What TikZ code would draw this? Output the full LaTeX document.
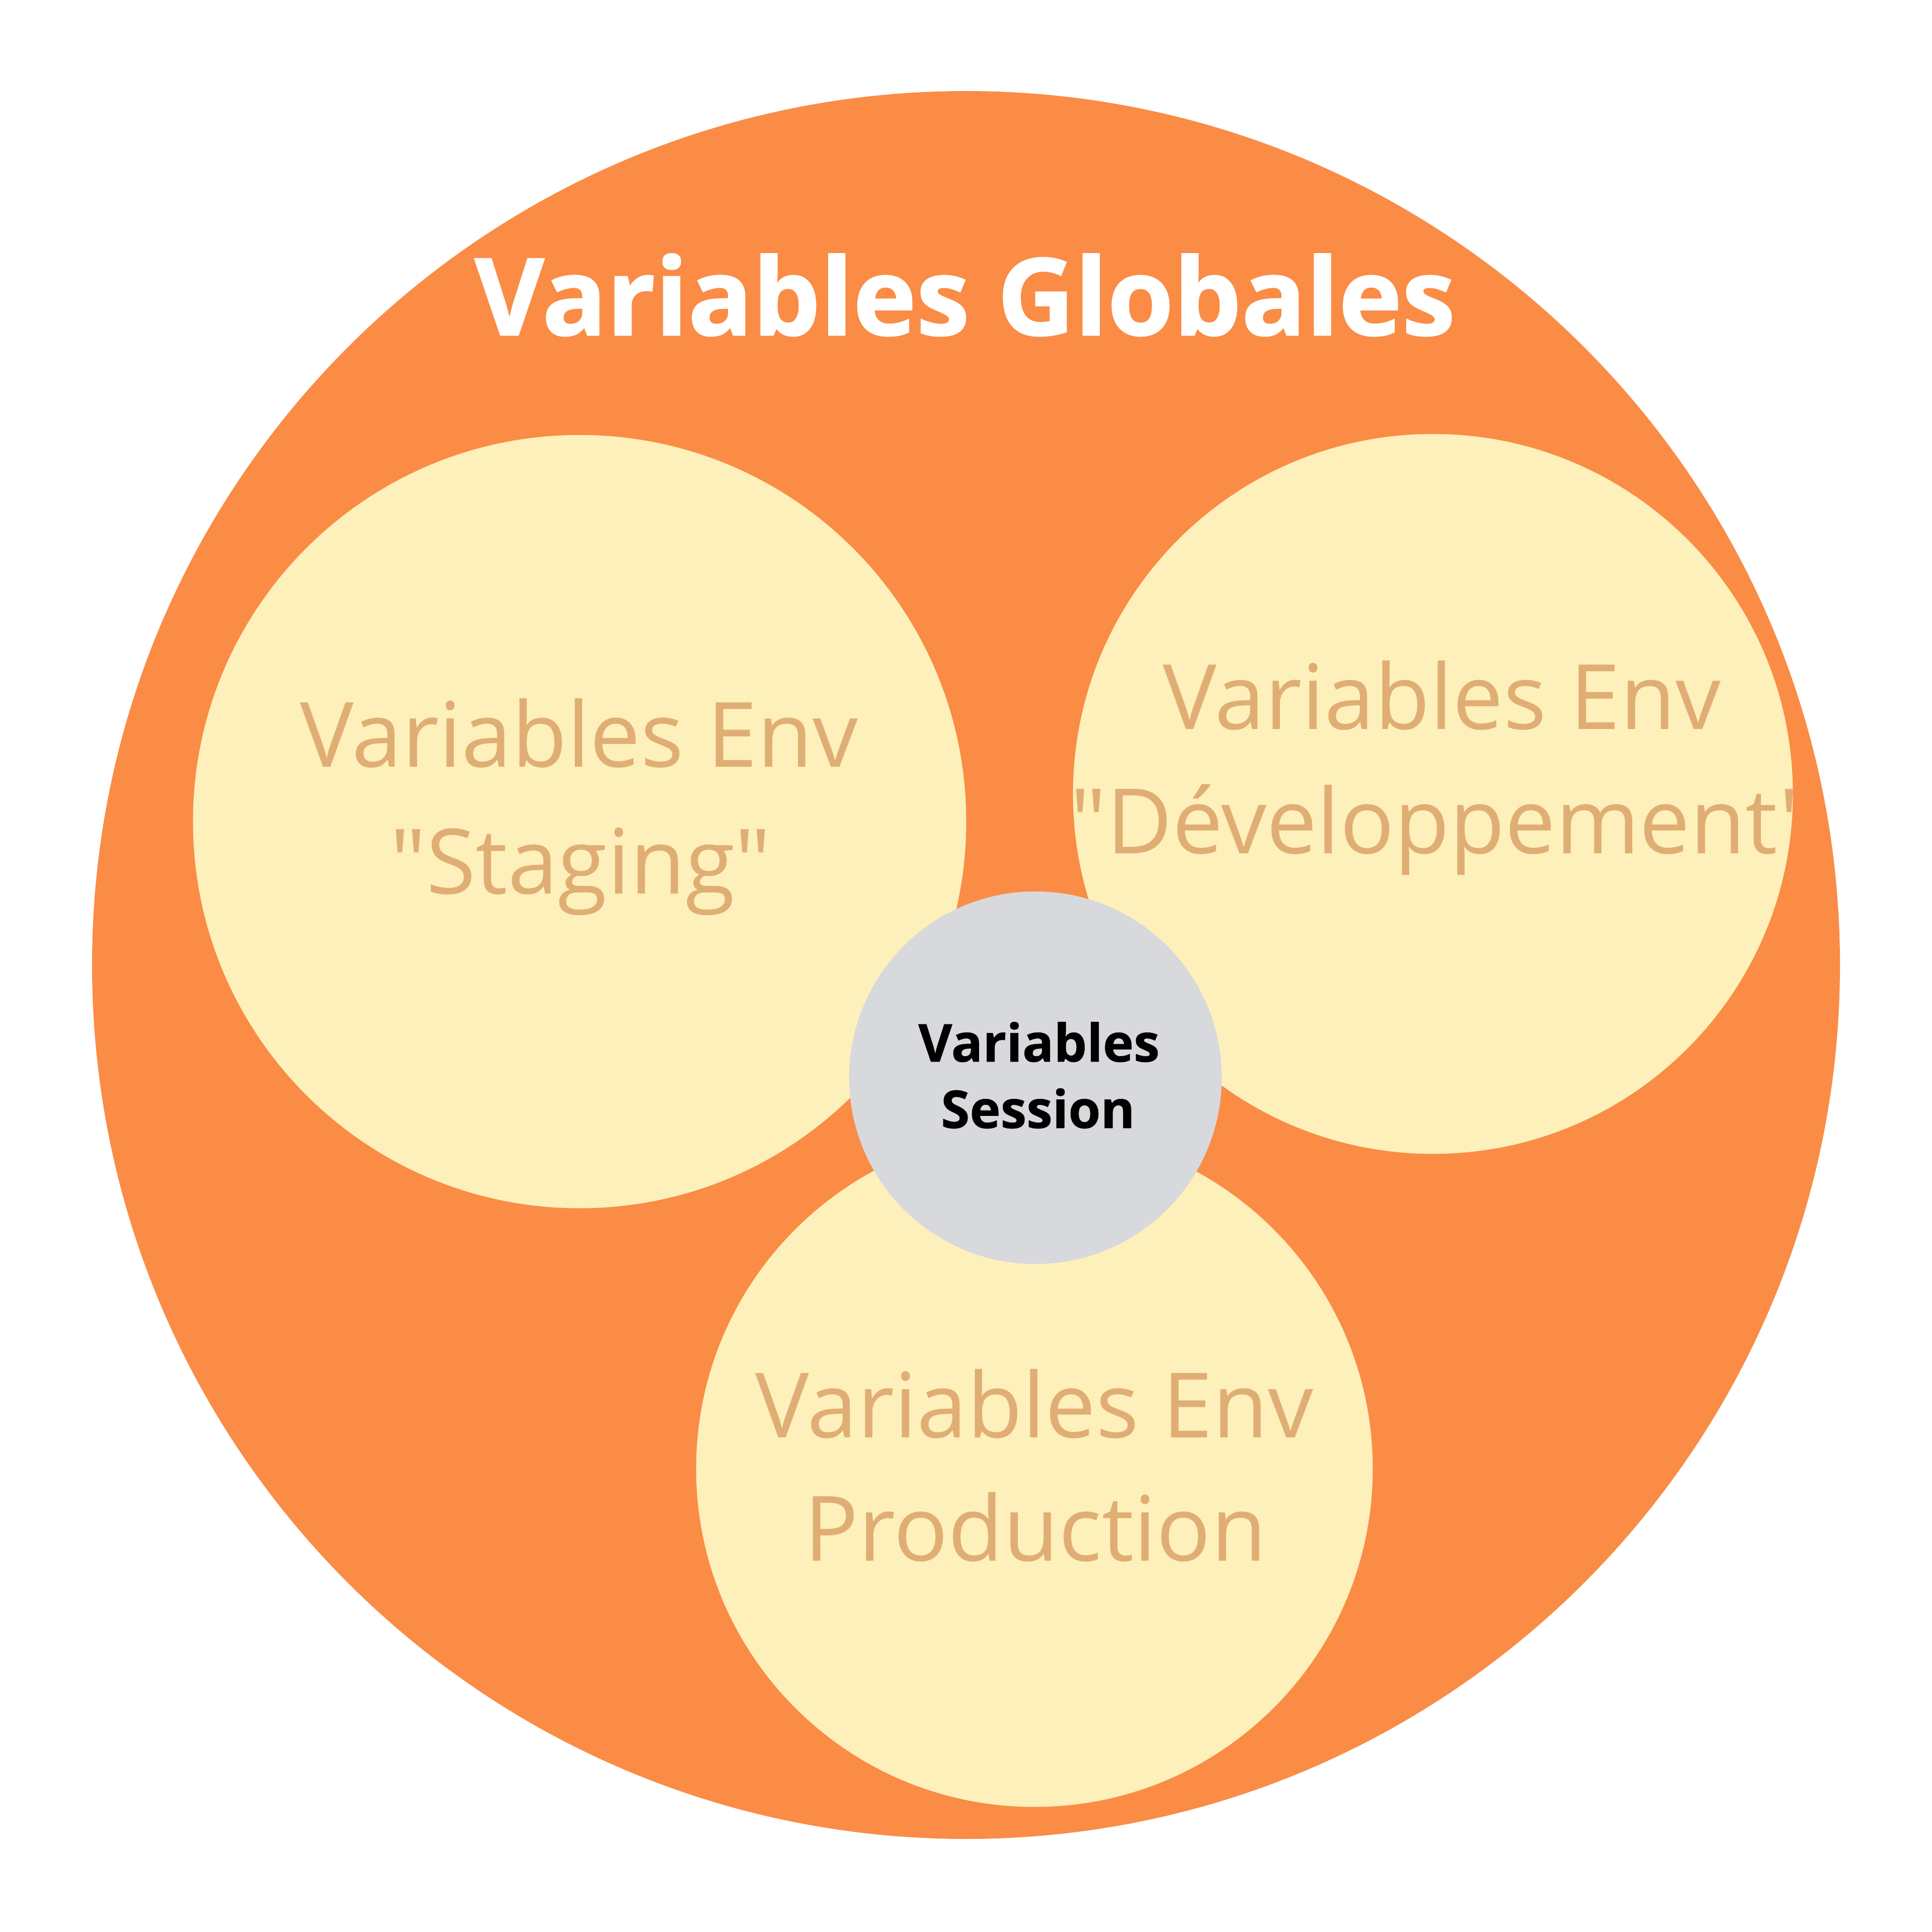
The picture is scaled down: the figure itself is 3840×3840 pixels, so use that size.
\documentclass[tikz,border=0pt]{standalone}
\usepackage{fontspec}
\setmainfont{Open Sans}[Ligatures=TeXOff]
\definecolor{orangeF}{HTML}{FA8C46}
\definecolor{yellowF}{HTML}{FDF0BA}
\definecolor{tanT}{HTML}{E0AE74}
\definecolor{grayF}{HTML}{D8D9DC}
\tikzset{
  disc/.style={circle, inner sep=0pt, outer sep=0pt, draw=none},
  envtext/.style={anchor=base, inner sep=0pt, text=tanT, font=\fontsize{51}{71}\selectfont},
  sesstext/.style={anchor=base, inner sep=0pt, text=black, font=\fontsize{29.5}{37}\selectfont\bfseries\addfontfeature{FakeBold=0.6}},
  titletext/.style={anchor=base, inner sep=0pt, text=white, font=\fontsize{60.5}{70}\selectfont\bfseries\addfontfeature{FakeBold=1.2}}
}
\begin{document}
\begin{tikzpicture}[x=0.01cm, y=-0.01cm]
\useasboundingbox[fill=white] (0,0) rectangle (3840,3840);
% outer circle
\node[disc, fill=orangeF, minimum size=34.72cm] (glob) at (1920,1918) {};
\node[titletext] (globt) at (1918,666) {Variables Globales};
% inner circles
\node[disc, fill=yellowF, minimum size=15.36cm] (stag) at (1152,1633) {};
\node[disc, fill=yellowF, minimum size=14.30cm] (dev) at (2848,1578) {};
\node[disc, fill=yellowF, minimum size=13.44cm] (prod) at (2056,2919) {};
% texts
\node[envtext] (stag1) at (1151,1524) {Variables Env};
\node[envtext] (stag2) at (1154,1776) {"Staging"};
\begin{scope}
  \clip (2848,1578) circle (715);
  \node[envtext] (dev1) at (2866,1449) {Variables Env};
  \node[envtext] (dev2) at (2868,1696) {"Développement"};
\end{scope}
\node[envtext] (prod1) at (2056,2857) {Variables Env};
\node[envtext] (prod2) at (2058,3102) {Production};
% session
\node[disc, fill=grayF, minimum size=7.40cm] (sess) at (2058,2142) {};
\node[sesstext] (sess1) at (2065,2110) {Variables};
\node[sesstext] (sess2) at (2063,2242) {Session};
\end{tikzpicture}
\end{document}
